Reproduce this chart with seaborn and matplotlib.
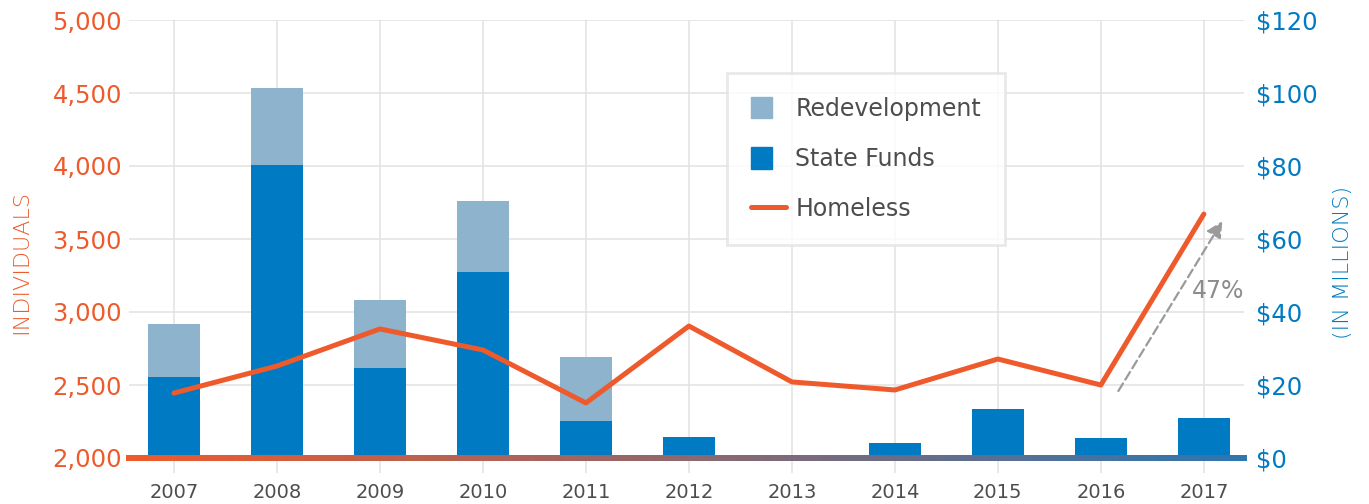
import numpy as np
import pandas as pd
import matplotlib
matplotlib.use("Agg")
import matplotlib.pyplot as plt
import seaborn as sns
from matplotlib.patches import Patch, Rectangle
from matplotlib.lines import Line2D
from matplotlib.collections import LineCollection
from matplotlib.legend_handler import HandlerPatch

# data
years = ['2007', '2008', '2009', '2010', '2011', '2012', '2013', '2014', '2015', '2016', '2017']
state_funds = [22.2, 80.3, 24.7, 51.0, 10.1, 5.8, 0.0, 4.1, 13.4, 5.5, 11.0]   # $M
redevelopment = [14.5, 21.1, 18.6, 19.4, 17.6, 0, 0, 0, 0, 0, 0]             # $M
homeless = [2445, 2630, 2884, 2740, 2377, 2904, 2521, 2466, 2678, 2500, 3671]
left_ticks = [2000, 2500, 3000, 3500, 4000, 4500, 5000]
right_ticks = [0, 20, 40, 60, 80, 100, 120]

ORANGE = '#EE5A2B'
BLUE = '#007AC2'
LIGHT = '#8DB4CC'
GRID = '#e2e2e2'
TEXT = '#4d4d4d'

sns.set_theme(style='white')
plt.rcParams['font.family'] = ['DejaVu Sans']

df = pd.DataFrame({'year': years, 'state': state_funds, 'redev': redevelopment,
                   'homeless': homeless})
df['total'] = df['state'] + df['redev']

fig = plt.figure(figsize=(13.69, 5.04), dpi=100)
ax = fig.add_axes([129/1369, 46/504, 1115/1369, 438/504])

# stacked bars on the money axis
sns.barplot(data=df, x='year', y='total', color=LIGHT, width=0.5, saturation=1,
            linewidth=0, ax=ax, zorder=2)
sns.barplot(data=df, x='year', y='state', color=BLUE, width=0.5, saturation=1,
            linewidth=0, ax=ax, zorder=3)
ax.set_ylim(0, 120)
ax.set_xlim(-0.437, 10.39)
ax.set_yticks(right_ticks)
ax.set_yticklabels([f'${v}' for v in right_ticks])
ax.set_axisbelow(True)
ax.grid(True, color=GRID, linewidth=1.1)
ax.set_xlabel('')
ax.set_ylabel('')
for s in ax.spines.values():
    s.set_visible(False)

# homeless line on the individuals axis
ax2 = ax.twinx()
sns.lineplot(data=df, x='year', y='homeless', color=ORANGE, linewidth=3.6,
             sort=False, ax=ax2)
ax2.set_ylim(2000, 5000)
ax2.set_xlim(-0.437, 10.39)
ax2.yaxis.tick_left()
ax2.set_yticks(left_ticks)
ax2.set_yticklabels([f'{v:,}' for v in left_ticks])
ax2.tick_params(axis='y', length=0, pad=5, labelsize=17.5, labelcolor=ORANGE)
ax2.set_xlabel('')
ax2.set_ylabel('')
ax2.grid(False)
for s in ax2.spines.values():
    s.set_visible(False)

# twinx moves the first axis' ticks to the left, so put them back
ax.yaxis.tick_right()
ax.tick_params(axis='y', length=0, pad=9, labelsize=17.5, labelcolor=BLUE)
ax.tick_params(axis='x', length=11, width=1.1, color=GRID, pad=7,
               labelsize=14, labelcolor=TEXT, direction='out', bottom=True)

# gradient baseline
c0 = np.array([238, 90, 43]) / 255
c1 = np.array([46, 117, 176]) / 255
xs = np.linspace(0, 1, 200)
segs = [[(xs[i], 0), (xs[i + 1], 0)] for i in range(len(xs) - 1)]
cols = [c0 + (c1 - c0) * t for t in xs[:-1]]
lc = LineCollection(segs, colors=cols, linewidths=4.3, transform=ax2.transAxes,
                    clip_on=False, capstyle='projecting', zorder=10)
ax2.add_collection(lc)
ax2.add_line(Line2D([0, 0.002], [0, 0], transform=ax2.transAxes, color=c0,
                    linewidth=4.3, solid_capstyle='round', clip_on=False, zorder=11))

# 47% annotation
ax2.annotate('', xy=(10.18, 3623), xytext=(9.17, 2459),
             arrowprops=dict(arrowstyle='-|>,head_length=0.8,head_width=0.4',
                             color='#9a9a9a', lw=1.6, linestyle=(0, (4, 2)),
                             shrinkA=0, shrinkB=0))
ax2.text(9.88, 3144, '47%', fontsize=17, color='#8c8c8c', ha='left', va='center')

# axis titles
fig.text(21/1369, 1 - 262/504, 'INDIVIDUALS', rotation=90, color=ORANGE,
         fontsize=16, fontweight='light', ha='center', va='center')
fig.text(1343/1369, 1 - 262/504, '(IN MILLIONS)', rotation=90, color=BLUE,
         fontsize=16, fontweight='light', ha='center', va='center')


# legend with square swatches
def square(legend, orig_handle, xdescent, ydescent, width, height, fontsize):
    s = height * 1.0
    return Rectangle((-xdescent, -ydescent + (height - s) / 2), s, s)


handles = [Patch(color=LIGHT, label='Redevelopment'),
           Patch(color=BLUE, label='State Funds'),
           Line2D([], [], color=ORANGE, linewidth=3.6, solid_capstyle='round',
                  label='Homeless')]
leg = fig.legend(handles=handles, loc='upper left',
                 bbox_to_anchor=(727/1369, 1 - 73/504), fontsize=17,
                 frameon=True, fancybox=False, edgecolor='#e4e4e4',
                 handlelength=1.5, handleheight=1.0, handletextpad=0.4,
                 labelspacing=1.12, borderpad=1.0, borderaxespad=0,
                 handler_map={Patch: HandlerPatch(patch_func=square)})
leg.get_frame().set_linewidth(2)
for t in leg.get_texts():
    t.set_color(TEXT)

fig.savefig('out.png', dpi=100)
